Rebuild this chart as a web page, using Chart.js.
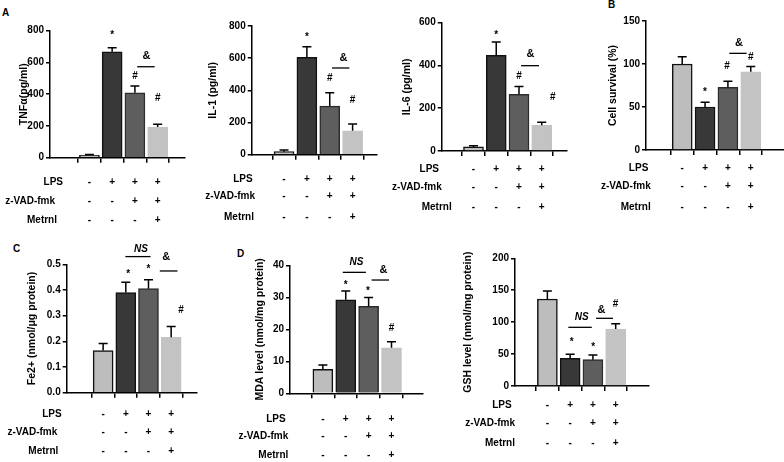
<!DOCTYPE html>
<html><head><meta charset="utf-8">
<script src="https://cdn.jsdelivr.net/npm/chart.js@4.4.0/dist/chart.umd.min.js"></script>
<style>
body{margin:0;background:#fff;width:784px;height:462px;position:relative;overflow:hidden;font-family:'Liberation Sans',Arial,sans-serif;}
canvas{position:absolute;}
.lt{position:absolute;font-weight:bold;font-size:10px;line-height:10px;color:#000;}
</style></head><body>
<div class="lt" style="left:2px;top:8px">A</div>
<div class="lt" style="left:608px;top:0px">B</div>
<div class="lt" style="left:13px;top:244px">C</div>
<div class="lt" style="left:237px;top:249px">D</div>
<script>
// ---- categories / treatment rows ----
const groups = ['Control', 'LPS', 'LPS+z-VAD-fmk', 'LPS+z-VAD-fmk+Metrnl'];
const rowNames = ['LPS', 'z-VAD-fmk', 'Metrnl'];
const lpsSigns = ['-', '+', '+', '+'];
const zvadSigns = ['-', '-', '+', '+'];
const metrnlSigns = ['-', '-', '-', '+'];

// ---- series values (mean, SD) ----
const tnfValues = [15, 667, 409, 193];
const tnfErrors = [5, 25, 42, 17];
const il1Values = [19, 605, 302, 149];
const il1Errors = [10, 66, 83, 42];
const il6Values = [19, 447, 265, 120];
const il6Errors = [6, 63, 37, 14];
const survValues = [100, 50, 73, 91];
const survErrors = [8.5, 5.4, 7, 6];
const feValues = [0.164, 0.390, 0.405, 0.216];
const feErrors = [0.028, 0.040, 0.035, 0.042];
const mdaValues = [7.5, 29.2, 27.2, 14.2];
const mdaErrors = [1.35, 2.8, 2.7, 1.9];
const gshValues = [136.3, 43.3, 41.3, 89.3];
const gshErrors = [12.5, 6.3, 7.3, 8.3];

// ---- y tick labels ----
const tnfTicks = [0, 200, 400, 600, 800];
const il1Ticks = [0, 200, 400, 600, 800];
const il6Ticks = [0, 200, 400, 600];
const survTicks = [0, 50, 100, 150];
const feTicks = [0, 0.1, 0.2, 0.3, 0.4, 0.5];
const mdaTicks = [0, 10, 20, 30, 40];
const gshTicks = [0, 50, 100, 150, 200];

// ---- significance marks [text, group position, value] and bracket lines [from, to, value] ----
const tnfMarks = [['*', 1, 786], ['#', 2, 515], ['#', 3, 376], ['&', 2.51, 641]];
const tnfLines = [[2.1, 2.87, 573]];
const il1Marks = [['*', 1, 744], ['#', 2, 477], ['#', 3, 340], ['&', 2.6, 603]];
const il1Lines = [[2.1, 2.86, 539]];
const il6Marks = [['*', 1, 552], ['#', 2, 351], ['#', 3.48, 253], ['&', 2.5, 454]];
const il6Lines = [[2.09, 2.88, 399]];
const survMarks = [['*', 1, 69.8], ['#', 1.96, 96.9], ['#', 3, 107.8], ['&', 2.48, 124.8]];
const survLines = [[2.06, 2.82, 112.4]];
const feMarks = [['*', 1.11, 0.471], ['*', 2, 0.491], ['NS', 1.67, 0.558], ['&', 2.78, 0.530], ['#', 3.44, 0.322]];
const feLines = [[0.98, 2.09, 0.530], [2.5, 3.28, 0.474]];
const mdaMarks = [['*', 1, 34.4], ['*', 1.97, 32.8], ['NS', 1.47, 40.9], ['&', 2.65, 38.5], ['#', 3, 20.3]];
const mdaLines = [[0.87, 1.88, 37.8], [2.13, 2.89, 35.4]];
const gshMarks = [['*', 1.07, 72], ['*', 2.01, 64.2], ['NS', 1.51, 107], ['&', 2.38, 119], ['#', 2.99, 128.4]];
const gshLines = [[0.92, 1.95, 91.9], [2.14, 2.88, 106]];

// ---- styles ----
const FAM = '"Liberation Sans", Arial, sans-serif';
const barFill = ['#bdbdbd', '#383838', '#5e5e5e', '#c3c3c3'];
const barEdge = ['#111111', '#111111', '#2c2c2c', '#c3c3c3'];

// ---- layout of each panel ----
const panels = [
  {title:'TNFα(pg/ml)', values:tnfValues, errors:tnfErrors, ticks:tnfTicks, marks:tnfMarks, lines:tnfLines, dec:0,
   box:[0,0,190,230], axisX:50, top:30.7, bottom:157.7, right:185, xMin:-0.99, xMax:3.46, titleX:24,
   rowDx:[13,5,7], rowDy:[24.3,43.3,62.3]},
  {title:'IL-1 (pg/ml)', values:il1Values, errors:il1Errors, ticks:il1Ticks, marks:il1Marks, lines:il1Lines, dec:0,
   box:[190,0,190,230], axisX:251.7, top:26, bottom:154.7, right:376.7, xMin:-0.73, xMax:3.37, titleX:213,
   rowDx:[1,3.3,2.3], rowDy:[25,42,63]},
  {title:'IL-6 (pg/ml)', values:il6Values, errors:il6Errors, ticks:il6Ticks, marks:il6Marks, lines:il6Lines, dec:0,
   box:[380,0,195,230], axisX:441.7, top:22.7, bottom:151, right:566.7, xMin:-0.71, xMax:3.41, titleX:406.7,
   rowDx:[-2.7,0,10], rowDy:[18,36.7,56.3]},
  {title:'Cell survival (%)', values:survValues, errors:survErrors, ticks:survTicks, marks:survMarks, lines:survLines, dec:0,
   box:[580,0,204,230], axisX:646, top:21, bottom:150, right:784, xMin:-0.83, xMax:3.7, titleX:613,
   rowDx:[2.3,4.7,4.7], rowDy:[18,36,57]},
  {title:'Fe2+ (nmol/μg protein)', values:feValues, errors:feErrors, ticks:feTicks, marks:feMarks, lines:feLines, dec:1,
   box:[0,230,215,232], axisX:66.7, top:264.3, bottom:392.7, right:196.7, xMin:-0.89, xMax:3.41, titleX:31.7,
   rowDx:[-5,-9.4,-8.4], rowDy:[21.3,40,58.6]},
  {title:'MDA level (nmol/mg protein)', values:mdaValues, errors:mdaErrors, ticks:mdaTicks, marks:mdaMarks, lines:mdaLines, dec:0,
   box:[225,230,215,232], axisX:290, top:265.3, bottom:393.3, right:423, xMin:-0.71, xMax:3.65, titleX:260.5,
   rowDx:[-4.3,-1.7,-1.7], rowDy:[25.7,43.4,61.7]},
  {title:'GSH level (nmol/mg protein)', values:gshValues, errors:gshErrors, ticks:gshTicks, marks:gshMarks, lines:gshLines, dec:0,
   box:[450,230,215,232], axisX:515, top:258.3, bottom:386, right:648.3, xMin:-0.69, xMax:3.7, titleX:468.3,
   rowDx:[-3.3,0,0], rowDy:[19,37.3,57.3]}
];

const extras = {
  id: 'extras',
  afterDatasetsDraw(chart, args, o) {
    const ctx = chart.ctx, xs = chart.scales.x, ys = chart.scales.y;
    ctx.save();
    ctx.strokeStyle = '#000';
    ctx.fillStyle = '#000';
    // error bars (upper only)
    ctx.lineWidth = 1.5;
    o.values.forEach((v, i) => {
      const x = xs.getPixelForValue(i);
      const y0 = ys.getPixelForValue(v);
      const y1 = ys.getPixelForValue(v + o.errors[i]);
      ctx.beginPath();
      ctx.moveTo(x, y0); ctx.lineTo(x, y1);
      ctx.moveTo(x - 4.5, y1); ctx.lineTo(x + 4.5, y1);
      ctx.stroke();
    });
    // bracket lines
    ctx.lineWidth = 1.3;
    o.lines.forEach(([a, b, v]) => {
      const y = ys.getPixelForValue(v);
      ctx.beginPath();
      ctx.moveTo(xs.getPixelForValue(a), y);
      ctx.lineTo(xs.getPixelForValue(b), y);
      ctx.stroke();
    });
    // marks
    ctx.textAlign = 'center';
    ctx.textBaseline = 'middle';
    o.marks.forEach(([t, gx, v]) => {
      let dy = 0;
      if (t === '*') { ctx.font = 'bold 10px ' + FAM; dy = 2.5; }
      else if (t === '&') ctx.font = 'bold 11px ' + FAM;
      else if (t === 'NS') ctx.font = 'italic bold 10px ' + FAM;
      else ctx.font = 'bold 10px ' + FAM;
      ctx.fillText(t, xs.getPixelForValue(gx), ys.getPixelForValue(v) + dy);
    });
    // treatment rows
    const base = ys.getPixelForValue(0);
    const rows = [lpsSigns, zvadSigns, metrnlSigns];
    ctx.font = 'bold 10px ' + FAM;
    rows.forEach((signs, r) => {
      const yy = base + o.rowDy[r];
      ctx.textAlign = 'right';
      ctx.fillText(rowNames[r], xs.left + o.rowDx[r], yy);
      ctx.textAlign = 'center';
      signs.forEach((s, i) => ctx.fillText(s, xs.getPixelForValue(i), yy));
    });
    ctx.restore();
  }
};

Chart.defaults.font.family = FAM;
Chart.defaults.color = '#000';

panels.forEach(p => {
  const [bx, by, bw, bh] = p.box;
  const cv = document.createElement('canvas');
  cv.width = bw; cv.height = bh;
  cv.style.left = bx + 'px'; cv.style.top = by + 'px';
  cv.style.width = bw + 'px'; cv.style.height = bh + 'px';
  document.body.appendChild(cv);
  const ymax = p.ticks[p.ticks.length - 1];
  new Chart(cv, {
    type: 'bar',
    data: {
      labels: groups,
      datasets: [{
        data: p.values.map((v, i) => ({x: i, y: v})),
        backgroundColor: barFill,
        borderColor: barEdge,
        borderWidth: 1.5,
        barThickness: 20
      }]
    },
    options: {
      responsive: false,
      animation: false,
      devicePixelRatio: 1,
      layout: {padding: {left: 0, top: p.top - by, right: bx + bw - p.right, bottom: 0}},
      plugins: {
        legend: {display: false},
        tooltip: {enabled: false},
        extras: {values: p.values, errors: p.errors, marks: p.marks, lines: p.lines, rowDx: p.rowDx, rowDy: p.rowDy}
      },
      scales: {
        x: {
          type: 'linear', min: p.xMin, max: p.xMax, bounds: 'data',
          afterBuildTicks: s => { s.ticks = groups.map((g, i) => ({value: i})); },
          afterFit: s => { s.height = by + bh - p.bottom; },
          ticks: {display: false},
          grid: {drawOnChartArea: false, drawTicks: true, tickLength: 5, color: '#000', lineWidth: 1.5},
          border: {display: true, color: '#000', width: 1.5}
        },
        y: {
          type: 'linear', min: 0, max: ymax,
          afterBuildTicks: s => { s.ticks = p.ticks.map(v => ({value: v})); },
          afterFit: s => { s.width = p.axisX - bx; },
          ticks: {font: {size: 10, weight: 'bold'}, color: '#000', padding: 2,
                  callback: v => Number(v).toFixed(p.dec)},
          grid: {drawOnChartArea: false, drawTicks: true, tickLength: 4, color: '#000', lineWidth: 1.5},
          border: {display: true, color: '#000', width: 1.5},
          title: {display: true, text: p.title, color: '#000',
                  font: {size: 10.5, weight: 'bold'},
                  padding: {top: p.titleX - bx - 6.3, bottom: 0}}
        }
      }
    },
    plugins: [extras]
  });
});
</script>
</body></html>
